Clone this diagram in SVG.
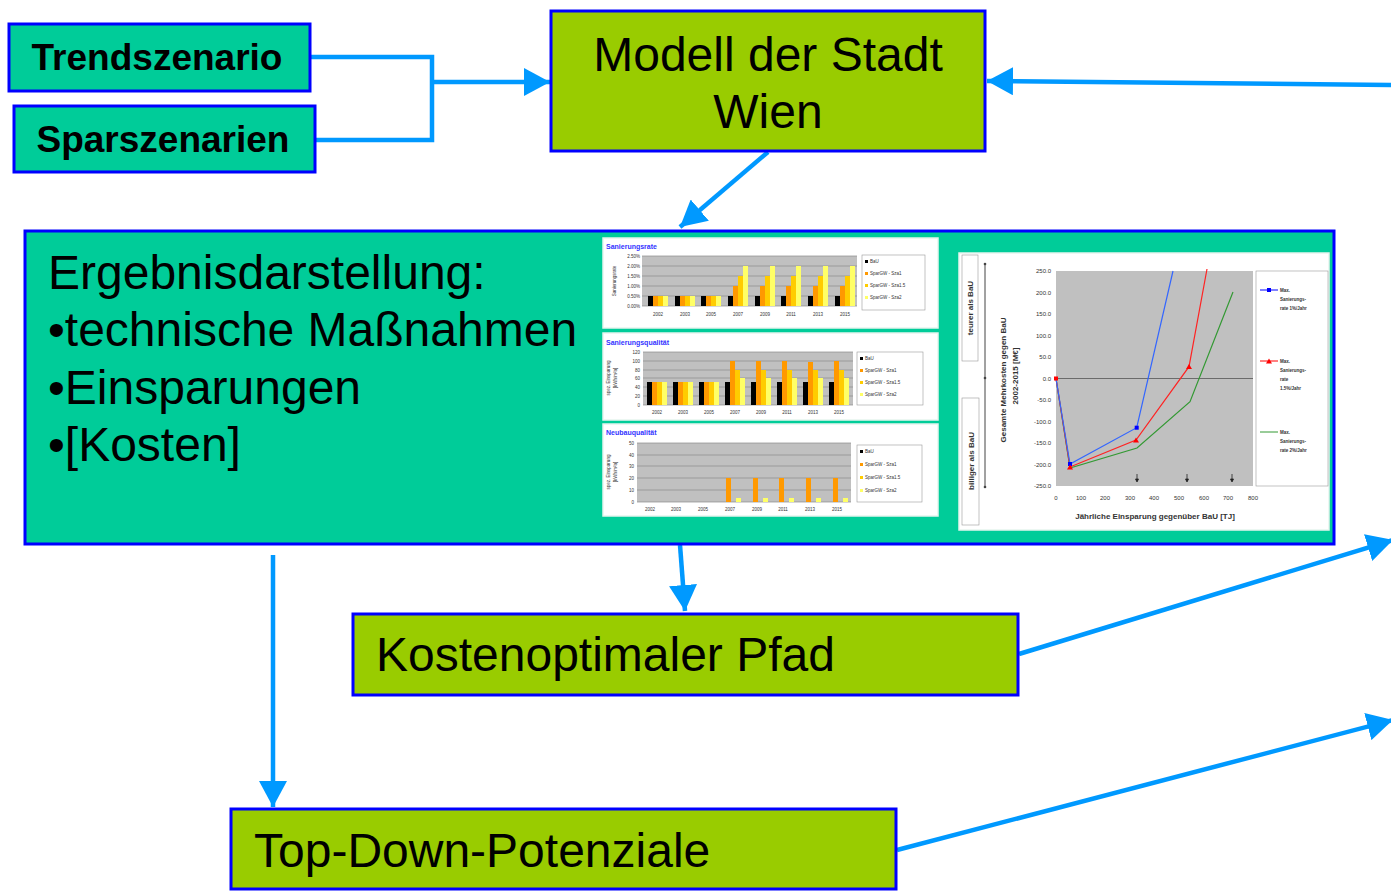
<svg xmlns="http://www.w3.org/2000/svg" width="1391" height="892" viewBox="0 0 1391 892">
  <defs>
    <style>
      .big { font-family: "Liberation Sans", Arial, sans-serif; font-size: 48px; fill: #000; }
      .bold36 { font-family: "Liberation Sans", Arial, sans-serif; font-size: 37px; font-weight: bold; fill: #000; }
      .teal { fill: #00CC99; stroke: #0000FF; stroke-width: 3; }
      .lime { fill: #99CC00; stroke: #0000FF; stroke-width: 3; }
      .conn { fill: none; stroke: #0099FF; stroke-width: 4.5; }
      .panel { fill: #FFFFFF; stroke: #E6F4EE; stroke-width: 1.5; }
      .plot { fill: #C0C0C0; }
      .grid { stroke: #8A8A8A; stroke-width: 0.7; }
      .ct { font-family: "Liberation Sans", Arial, sans-serif; font-size: 7px; font-weight: bold; fill: #3333FF; }
      .tiny { font-family: "Liberation Sans", Arial, sans-serif; font-size: 4.5px; fill: #333; }
      .sm { font-family: "Liberation Sans", Arial, sans-serif; font-size: 6px; fill: #333; }
      .smb { font-family: "Liberation Sans", Arial, sans-serif; font-size: 8px; font-weight: bold; fill: #333; }
      .leg { fill: #FFFFFF; stroke: #999; stroke-width: 0.6; }
      .k { fill: #000; }
      .o { fill: #FF9900; }
      .g { fill: #FFCC00; }
      .y { fill: #FFFF66; }
    </style>
    <marker id="ah" viewBox="0 0 26 28" refX="26" refY="14" markerWidth="26" markerHeight="28" markerUnits="userSpaceOnUse" orient="auto">
      <path d="M0,0 L26,14 L0,28 Z" fill="#0099FF"/>
    </marker>
  </defs>

  <!-- connectors -->
  <g id="connectors">
    <polyline class="conn" points="310,57 432,57 432,140 315,140"/>
    <line class="conn" x1="432" y1="82" x2="550" y2="82" marker-end="url(#ah)"/>
    <line class="conn" x1="1391" y1="85" x2="987" y2="81" marker-end="url(#ah)"/>
    <line class="conn" x1="768" y1="152" x2="680" y2="227" marker-end="url(#ah)"/>
    <line class="conn" x1="680" y1="545" x2="685" y2="611" marker-end="url(#ah)"/>
    <line class="conn" x1="273" y1="555" x2="273" y2="807" marker-end="url(#ah)"/>
    <line class="conn" x1="1019" y1="654" x2="1393" y2="540" marker-end="url(#ah)"/>
    <line class="conn" x1="897" y1="850" x2="1393" y2="720" marker-end="url(#ah)"/>
  </g>

  <g id="trendszenario">
    <rect class="teal" x="9" y="24" width="301" height="67"/>
    <text class="bold36" x="157" y="70" text-anchor="middle">Trendszenario</text>
  </g>

  <g id="sparszenarien">
    <rect class="teal" x="14" y="106" width="301" height="66"/>
    <text class="bold36" x="163" y="152" text-anchor="middle">Sparszenarien</text>
  </g>

  <g id="modell">
    <rect class="lime" x="551" y="11" width="434" height="140"/>
    <text class="big" x="768" y="71" text-anchor="middle">Modell der Stadt</text>
    <text class="big" x="768" y="128" text-anchor="middle">Wien</text>
  </g>

  <g id="ergebnis">
    <rect class="teal" x="25" y="231" width="1309" height="313"/>
    <text class="big" x="48" y="289">Ergebnisdarstellung:</text>
    <text class="big" x="48" y="346">•technische Maßnahmen</text>
    <text class="big" x="48" y="404">•Einsparungen</text>
    <text class="big" x="48" y="461">•[Kosten]</text>

    <!-- chart: Sanierungsrate -->
    <g id="chart-rate">
      <rect class="panel" x="603" y="238" width="335" height="90"/>
      <text class="ct" x="606" y="249">Sanierungsrate</text>
      <rect class="plot" x="642" y="256" width="215" height="50"/>
      <g class="grid">
        <line x1="642" y1="256" x2="857" y2="256"/>
        <line x1="642" y1="266" x2="857" y2="266"/>
        <line x1="642" y1="276" x2="857" y2="276"/>
        <line x1="642" y1="286" x2="857" y2="286"/>
        <line x1="642" y1="296" x2="857" y2="296"/>
        <line x1="642" y1="306" x2="857" y2="306"/>
      </g>
      <g class="tiny" text-anchor="end">
        <text x="640" y="258">2.50%</text>
        <text x="640" y="268">2.00%</text>
        <text x="640" y="278">1.50%</text>
        <text x="640" y="288">1.00%</text>
        <text x="640" y="298">0.50%</text>
        <text x="640" y="308">0.00%</text>
      </g>
      <text class="tiny" transform="translate(616,281) rotate(-90)" text-anchor="middle">Sanierungsrate</text>
      <!-- bars: BaU, Sza1, Sza1.5, Sza2 -->
      <g>
        <rect class="k" x="648" y="296" width="5" height="10"/><rect class="o" x="653" y="296" width="5" height="10"/><rect class="g" x="658" y="296" width="5" height="10"/><rect class="y" x="663" y="296" width="5" height="10"/>
        <rect class="k" x="675" y="296" width="5" height="10"/><rect class="o" x="680" y="296" width="5" height="10"/><rect class="g" x="685" y="296" width="5" height="10"/><rect class="y" x="690" y="296" width="5" height="10"/>
        <rect class="k" x="701" y="296" width="5" height="10"/><rect class="o" x="706" y="296" width="5" height="10"/><rect class="g" x="711" y="296" width="5" height="10"/><rect class="y" x="716" y="296" width="5" height="10"/>
        <rect class="k" x="728" y="296" width="5" height="10"/><rect class="o" x="733" y="286" width="5" height="20"/><rect class="g" x="738" y="276" width="5" height="30"/><rect class="y" x="743" y="266" width="5" height="40"/>
        <rect class="k" x="755" y="296" width="5" height="10"/><rect class="o" x="760" y="286" width="5" height="20"/><rect class="g" x="765" y="276" width="5" height="30"/><rect class="y" x="770" y="266" width="5" height="40"/>
        <rect class="k" x="781" y="296" width="5" height="10"/><rect class="o" x="786" y="286" width="5" height="20"/><rect class="g" x="791" y="276" width="5" height="30"/><rect class="y" x="796" y="266" width="5" height="40"/>
        <rect class="k" x="808" y="296" width="5" height="10"/><rect class="o" x="813" y="286" width="5" height="20"/><rect class="g" x="818" y="276" width="5" height="30"/><rect class="y" x="823" y="266" width="5" height="40"/>
        <rect class="k" x="835" y="296" width="5" height="10"/><rect class="o" x="840" y="286" width="5" height="20"/><rect class="g" x="845" y="276" width="5" height="30"/><rect class="y" x="850" y="266" width="5" height="40"/>
      </g>
      <g class="tiny" text-anchor="middle">
        <text x="658" y="316">2002</text><text x="685" y="316">2003</text><text x="711" y="316">2005</text><text x="738" y="316">2007</text>
        <text x="765" y="316">2009</text><text x="791" y="316">2011</text><text x="818" y="316">2013</text><text x="845" y="316">2015</text>
      </g>
      <rect class="leg" x="862" y="255" width="63" height="55"/>
      <rect class="k" x="865" y="260" width="3" height="3"/><text class="tiny" x="870" y="263">BaU</text>
      <rect class="o" x="865" y="272" width="3" height="3"/><text class="tiny" x="870" y="275">SparGW - Sza1</text>
      <rect class="g" x="865" y="284" width="3" height="3"/><text class="tiny" x="870" y="287">SparGW - Sza1.5</text>
      <rect class="y" x="865" y="296" width="3" height="3"/><text class="tiny" x="870" y="299">SparGW - Sza2</text>
    </g>

    <!-- chart: Sanierungsqualität -->
    <g id="chart-qual">
      <rect class="panel" x="603" y="333" width="335" height="87"/>
      <text class="ct" x="606" y="345">Sanierungsqualität</text>
      <rect class="plot" x="643" y="352" width="210" height="53"/>
      <g class="grid">
        <line x1="643" y1="352" x2="853" y2="352"/>
        <line x1="643" y1="361" x2="853" y2="361"/>
        <line x1="643" y1="370" x2="853" y2="370"/>
        <line x1="643" y1="378" x2="853" y2="378"/>
        <line x1="643" y1="387" x2="853" y2="387"/>
        <line x1="643" y1="396" x2="853" y2="396"/>
        <line x1="643" y1="405" x2="853" y2="405"/>
      </g>
      <g class="tiny" text-anchor="end">
        <text x="640" y="354">120</text><text x="640" y="363">100</text><text x="640" y="372">80</text><text x="640" y="380">60</text>
        <text x="640" y="389">40</text><text x="640" y="398">20</text><text x="640" y="407">0</text>
      </g>
      <text class="tiny" transform="translate(610,378) rotate(-90)" text-anchor="middle">spez. Einsparung</text>
      <text class="tiny" transform="translate(617,378) rotate(-90)" text-anchor="middle">[kWh/m²a]</text>
      <g>
        <rect class="k" x="647" y="382" width="5" height="23"/><rect class="o" x="652" y="382" width="5" height="23"/><rect class="g" x="657" y="382" width="5" height="23"/><rect class="y" x="662" y="382" width="5" height="23"/>
        <rect class="k" x="673" y="382" width="5" height="23"/><rect class="o" x="678" y="382" width="5" height="23"/><rect class="g" x="683" y="382" width="5" height="23"/><rect class="y" x="688" y="382" width="5" height="23"/>
        <rect class="k" x="699" y="382" width="5" height="23"/><rect class="o" x="704" y="382" width="5" height="23"/><rect class="g" x="709" y="382" width="5" height="23"/><rect class="y" x="714" y="382" width="5" height="23"/>
        <rect class="k" x="725" y="382" width="5" height="23"/><rect class="o" x="730" y="361" width="5" height="44"/><rect class="g" x="735" y="370" width="5" height="35"/><rect class="y" x="740" y="378" width="5" height="27"/>
        <rect class="k" x="751" y="382" width="5" height="23"/><rect class="o" x="756" y="361" width="5" height="44"/><rect class="g" x="761" y="370" width="5" height="35"/><rect class="y" x="766" y="378" width="5" height="27"/>
        <rect class="k" x="777" y="382" width="5" height="23"/><rect class="o" x="782" y="361" width="5" height="44"/><rect class="g" x="787" y="370" width="5" height="35"/><rect class="y" x="792" y="378" width="5" height="27"/>
        <rect class="k" x="803" y="382" width="5" height="23"/><rect class="o" x="808" y="362" width="5" height="43"/><rect class="g" x="813" y="370" width="5" height="35"/><rect class="y" x="818" y="378" width="5" height="27"/>
        <rect class="k" x="829" y="382" width="5" height="23"/><rect class="o" x="834" y="361" width="5" height="44"/><rect class="g" x="839" y="370" width="5" height="35"/><rect class="y" x="844" y="378" width="5" height="27"/>
      </g>
      <g class="tiny" text-anchor="middle">
        <text x="657" y="414">2002</text><text x="683" y="414">2003</text><text x="709" y="414">2005</text><text x="735" y="414">2007</text>
        <text x="761" y="414">2009</text><text x="787" y="414">2011</text><text x="813" y="414">2013</text><text x="839" y="414">2015</text>
      </g>
      <rect class="leg" x="857" y="352" width="66" height="53"/>
      <rect class="k" x="860" y="357" width="3" height="3"/><text class="tiny" x="865" y="360">BaU</text>
      <rect class="o" x="860" y="369" width="3" height="3"/><text class="tiny" x="865" y="372">SparGW - Sza1</text>
      <rect class="g" x="860" y="381" width="3" height="3"/><text class="tiny" x="865" y="384">SparGW - Sza1.5</text>
      <rect class="y" x="860" y="393" width="3" height="3"/><text class="tiny" x="865" y="396">SparGW - Sza2</text>
    </g>

    <!-- chart: Neubauqualität -->
    <g id="chart-neubau">
      <rect class="panel" x="603" y="424" width="335" height="92"/>
      <text class="ct" x="606" y="435">Neubauqualität</text>
      <rect class="plot" x="637" y="443" width="214" height="59"/>
      <g class="grid">
        <line x1="637" y1="443" x2="851" y2="443"/>
        <line x1="637" y1="455" x2="851" y2="455"/>
        <line x1="637" y1="466" x2="851" y2="466"/>
        <line x1="637" y1="478" x2="851" y2="478"/>
        <line x1="637" y1="490" x2="851" y2="490"/>
        <line x1="637" y1="502" x2="851" y2="502"/>
      </g>
      <g class="tiny" text-anchor="end">
        <text x="634" y="445">50</text><text x="634" y="457">40</text><text x="634" y="468">30</text>
        <text x="634" y="480">20</text><text x="634" y="492">10</text><text x="634" y="504">0</text>
      </g>
      <text class="tiny" transform="translate(610,472) rotate(-90)" text-anchor="middle">spez. Einsparung</text>
      <text class="tiny" transform="translate(617,472) rotate(-90)" text-anchor="middle">[kWh/m²a]</text>
      <g>
        <rect class="o" x="726" y="478" width="5" height="24"/><rect class="y" x="736" y="498" width="5" height="4"/>
        <rect class="o" x="753" y="478" width="5" height="24"/><rect class="y" x="763" y="498" width="5" height="4"/>
        <rect class="o" x="779" y="478" width="5" height="24"/><rect class="y" x="789" y="498" width="5" height="4"/>
        <rect class="o" x="806" y="478" width="5" height="24"/><rect class="y" x="816" y="498" width="5" height="4"/>
        <rect class="o" x="833" y="478" width="5" height="24"/><rect class="y" x="843" y="498" width="5" height="4"/>
      </g>
      <g class="tiny" text-anchor="middle">
        <text x="650" y="511">2002</text><text x="676" y="511">2003</text><text x="703" y="511">2005</text><text x="730" y="511">2007</text>
        <text x="757" y="511">2009</text><text x="783" y="511">2011</text><text x="810" y="511">2013</text><text x="837" y="511">2015</text>
      </g>
      <rect class="leg" x="857" y="445" width="65" height="57"/>
      <rect class="k" x="860" y="450" width="3" height="3"/><text class="tiny" x="865" y="453">BaU</text>
      <rect class="o" x="860" y="463" width="3" height="3"/><text class="tiny" x="865" y="466">SparGW - Sza1</text>
      <rect class="g" x="860" y="476" width="3" height="3"/><text class="tiny" x="865" y="479">SparGW - Sza1.5</text>
      <rect class="y" x="860" y="489" width="3" height="3"/><text class="tiny" x="865" y="492">SparGW - Sza2</text>
    </g>

    <!-- chart: Mehrkosten vs. Einsparung -->
    <g id="chart-kosten">
      <rect class="panel" x="959" y="253" width="370" height="277"/>
      <rect class="leg" x="962" y="255" width="16" height="106"/>
      <text class="smb" transform="translate(973,308) rotate(-90)" text-anchor="middle">teurer als BaU</text>
      <rect class="leg" x="962" y="398" width="17" height="127"/>
      <text class="smb" transform="translate(974,461) rotate(-90)" text-anchor="middle">billiger als BaU</text>
      <line x1="985" y1="264" x2="985" y2="487" stroke="#444" stroke-width="1"/>
      <circle cx="985" cy="264" r="1.3" fill="#444"/>
      <circle cx="985" cy="378" r="1.3" fill="#444"/>
      <circle cx="985" cy="487" r="1.3" fill="#444"/>
      <text class="smb" transform="translate(1006,380) rotate(-90)" text-anchor="middle">Gesamte Mehrkosten gegen BaU</text>
      <text class="smb" transform="translate(1018,376) rotate(-90)" text-anchor="middle">2002-2015 [M€]</text>

      <rect class="plot" x="1056" y="271" width="197" height="215"/>
      <line x1="1056" y1="378.5" x2="1253" y2="378.5" stroke="#555" stroke-width="0.8"/>
      <g class="sm" text-anchor="end">
        <text x="1051" y="273">250.0</text><text x="1051" y="294.5">200.0</text><text x="1051" y="316">150.0</text>
        <text x="1051" y="337.5">100.0</text><text x="1051" y="359">50.0</text><text x="1051" y="380.5">0.0</text>
        <text x="1051" y="402">-50.0</text><text x="1051" y="423.5">-100.0</text><text x="1051" y="445">-150.0</text>
        <text x="1051" y="466.5">-200.0</text><text x="1051" y="488">-250.0</text>
      </g>
      <g class="sm" text-anchor="middle">
        <text x="1056" y="500">0</text><text x="1081" y="500">100</text><text x="1105" y="500">200</text>
        <text x="1130" y="500">300</text><text x="1154" y="500">400</text><text x="1179" y="500">500</text>
        <text x="1204" y="500">600</text><text x="1228" y="500">700</text><text x="1253" y="500">800</text>
      </g>
      <text class="smb" x="1155" y="519" text-anchor="middle">Jährliche Einsparung gegenüber BaU [TJ]</text>
      <!-- markers of the savings steps -->
      <g stroke="#222" stroke-width="0.8" fill="#222">
        <line x1="1137" y1="474" x2="1137" y2="481"/><path d="M1135.5,479 L1138.5,479 L1137,482 Z"/>
        <line x1="1187" y1="474" x2="1187" y2="481"/><path d="M1185.5,479 L1188.5,479 L1187,482 Z"/>
        <line x1="1232" y1="474" x2="1232" y2="481"/><path d="M1230.5,479 L1233.5,479 L1232,482 Z"/>
      </g>
      <!-- series -->
      <polyline points="1056,378.5 1070,468 1137,448 1190,401.7 1233,292" fill="none" stroke="#339933" stroke-width="1.2"/>
      <polyline points="1056,378.5 1070,467 1136,440 1189,366.7 1207,269" fill="none" stroke="#FF2222" stroke-width="1.2"/>
      <polyline points="1056,378.5 1070,464 1136.7,427.7 1173,271" fill="none" stroke="#3366FF" stroke-width="1.2"/>
      <rect x="1054" y="376.5" width="4" height="4" fill="#FF0000"/>
      <rect x="1068" y="462" width="4" height="4" fill="#0000FF"/>
      <path d="M1070,464.5 L1073,469.5 L1067,469.5 Z" fill="#FF0000"/>
      <rect x="1134.7" y="425.7" width="4" height="4" fill="#0000FF"/>
      <path d="M1136,437.5 L1139,442.5 L1133,442.5 Z" fill="#FF0000"/>
      <path d="M1189,364 L1192,369 L1186,369 Z" fill="#FF0000"/>

      <rect class="leg" x="1256" y="271" width="72" height="215" stroke="none"/>
      <line x1="1260" y1="290" x2="1278" y2="290" stroke="#0000FF" stroke-width="1"/>
      <rect x="1267" y="288" width="4" height="4" fill="#0000FF"/>
      <g class="tiny" font-weight="bold">
        <text x="1280" y="292">Max.</text><text x="1280" y="301">Sanierungs-</text><text x="1280" y="310">rate 1%/Jahr</text>
      </g>
      <line x1="1260" y1="361" x2="1278" y2="361" stroke="#FF0000" stroke-width="1"/>
      <path d="M1269,358.5 L1272,363.5 L1266,363.5 Z" fill="#FF0000"/>
      <g class="tiny" font-weight="bold">
        <text x="1280" y="363">Max.</text><text x="1280" y="372">Sanierungs-</text><text x="1280" y="381">rate</text><text x="1280" y="390">1.5%/Jahr</text>
      </g>
      <line x1="1260" y1="432" x2="1278" y2="432" stroke="#339933" stroke-width="1"/>
      <g class="tiny" font-weight="bold">
        <text x="1280" y="434">Max.</text><text x="1280" y="443">Sanierungs-</text><text x="1280" y="452">rate 2%/Jahr</text>
      </g>
    </g>
  </g>

  <g id="kostenoptimal">
    <rect class="lime" x="353" y="614" width="665" height="81"/>
    <text class="big" x="376" y="671">Kostenoptimaler Pfad</text>
  </g>

  <g id="topdown">
    <rect class="lime" x="231" y="809" width="665" height="80"/>
    <text class="big" x="254" y="867">Top-Down-Potenziale</text>
  </g>
</svg>
